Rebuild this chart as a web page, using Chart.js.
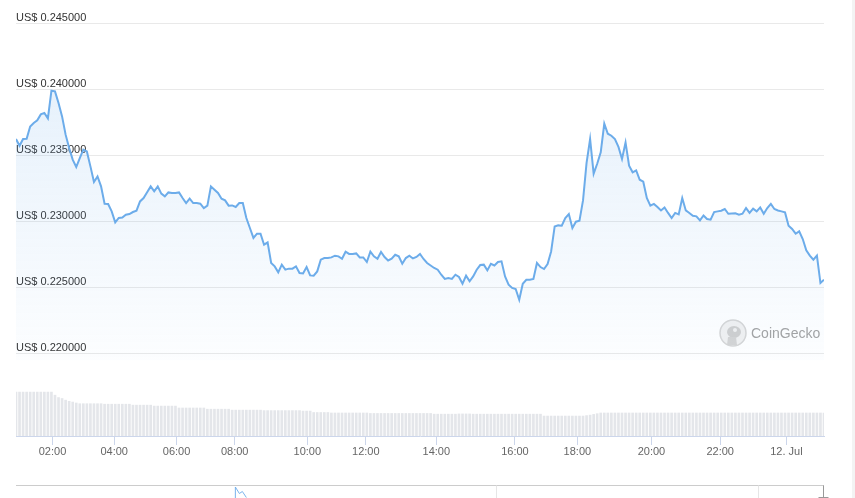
<!DOCTYPE html>
<html>
<head>
<meta charset="utf-8">
<script src="https://cdn.jsdelivr.net/npm/chart.js@4.4.1/dist/chart.umd.min.js"></script>
<style>
  html, body { margin: 0; padding: 0; background: #ffffff; }
  #wrap { position: relative; width: 855px; height: 498px; overflow: hidden; }
  #side { position: absolute; left: 852px; top: 0; width: 3px; height: 498px; background: #f3f3f3; }
  canvas { position: absolute; left: 0; top: 0; }
</style>
</head>
<body>
<div id="wrap">
  <canvas id="c" width="855" height="498"></canvas>
  <div id="side"></div>
</div>
<script>
// Price (USD) per sample, evenly spaced on an ordinal time axis
const prices = [
  0.23623,0.23572,0.23623,0.23625,0.23718,0.23744,0.23764,0.23809,0.23820,0.23779,
  0.23988,0.23983,0.23895,0.23794,0.23656,0.23555,0.23467,0.23411,0.23479,0.23542,
  0.23529,0.23416,0.23298,0.23340,0.23265,0.23134,0.23132,0.23076,0.22993,0.23026,
  0.23030,0.23051,0.23056,0.23071,0.23081,0.23151,0.23177,0.23221,0.23265,0.23227,
  0.23265,0.23210,0.23189,0.23219,0.23215,0.23215,0.23219,0.23177,0.23139,0.23172,
  0.23139,0.23139,0.23134,0.23101,0.23119,0.23265,0.23240,0.23215,0.23172,0.23159,
  0.23119,0.23121,0.23109,0.23139,0.23139,0.23026,0.22950,0.22875,0.22907,0.22907,
  0.22824,0.22841,0.22686,0.22660,0.22615,0.22673,0.22635,0.22643,0.22643,0.22660,
  0.22610,0.22607,0.22655,0.22592,0.22590,0.22622,0.22711,0.22723,0.22723,0.22728,
  0.22741,0.22736,0.22718,0.22771,0.22754,0.22754,0.22758,0.22728,0.22728,0.22693,
  0.22771,0.22736,0.22718,0.22769,0.22731,0.22705,0.22718,0.22748,0.22736,0.22680,
  0.22723,0.22741,0.22720,0.22731,0.22754,0.22716,0.22686,0.22667,0.22648,0.22635,
  0.22597,0.22565,0.22572,0.22565,0.22597,0.22580,0.22529,0.22590,0.22547,0.22584,
  0.22635,0.22670,0.22673,0.22630,0.22680,0.22667,0.22693,0.22698,0.22584,0.22522,
  0.22497,0.22489,0.22408,0.22529,0.22559,0.22559,0.22565,0.22686,0.22655,0.22640,
  0.22678,0.22773,0.22962,0.22970,0.22968,0.23026,0.23056,0.22950,0.22998,0.23005,
  0.23159,0.23442,0.23623,0.23361,0.23436,0.23522,0.23739,0.23663,0.23648,0.23623,
  0.23563,0.23472,0.23597,0.23421,0.23371,0.23386,0.23315,0.23300,0.23177,0.23119,
  0.23132,0.23109,0.23083,0.23106,0.23064,0.23026,0.23064,0.23053,0.23177,0.23083,
  0.23064,0.23043,0.23038,0.23008,0.23045,0.23018,0.23013,0.23071,0.23076,0.23081,
  0.23094,0.23058,0.23060,0.23061,0.23051,0.23058,0.23101,0.23064,0.23096,0.23076,
  0.23106,0.23058,0.23101,0.23132,0.23094,0.23083,0.23076,0.23068,0.22968,0.22943,
  0.22907,0.22925,0.22867,0.22781,0.22741,0.22711,0.22741,0.22534,0.22559
];

// 24h volume (million USD) per sample
const volumes = [
  185,185,185,185,185,185,185,185,185,185,185,172,162,158,151,146,143,139,136,136,
  136,136,136,136,136,134,134,134,134,134,134,134,134,130,130,130,130,130,130,126,
  126,126,126,126,126,126,118,118,118,118,118,118,118,118,113,113,113,113,113,113,
  113,109,109,109,109,109,109,109,109,109,107,107,107,107,107,107,107,107,107,107,
  107,105,105,105,99,99,99,99,99,97,97,97,97,97,97,97,97,97,97,97,
  95,95,95,95,95,95,95,95,95,95,95,95,95,95,95,95,95,95,92,92,
  92,92,92,92,92,93,93,93,93,92,92,92,92,92,92,92,92,92,92,92,
  92,92,92,92,92,92,92,92,92,84,84,84,84,84,84,84,84,84,84,84,
  84,86,88,91,94,97,97,97,97,97,97,97,97,97,97,97,97,97,97,97,
  97,97,97,97,97,97,97,97,97,97,97,97,97,97,97,97,97,97,97,97,
  97,97,97,97,97,97,97,97,97,97,97,97,97,97,97,97,97,97,97,97,
  97,97,97,97,97,97,97,97,97
];

// Time-axis labels and the sample position at which each falls
const xTickLabels = ['02:00','04:00','06:00','08:00','10:00','12:00','14:00','16:00','18:00','20:00','22:00','12. Jul'];
const xTickPos    = [10.3, 27.7, 45.3, 61.7, 82.2, 98.7, 118.6, 140.8, 158.4, 179.3, 198.7, 217.4];

// Price axis tick values
const yTicks = [0.220, 0.225, 0.230, 0.235, 0.240, 0.245];

const LINE = 'rgb(108,172,234)';
const FONT = "'Liberation Sans', Arial, sans-serif";
const fillBase = 0.2195;

const pricePts = prices.map((v, i) => ({ x: i, y: v }));
const volPts = volumes.map((v, i) => ({ x: i, y: v }));

const decor = {
  id: 'decor',
  beforeDatasetsDraw(chart) {
    const { ctx, chartArea: a } = chart;
    // CoinGecko watermark
    const cx = a.right - 91, cy = a.top + 310;
    ctx.save();
    ctx.beginPath();
    ctx.arc(cx, cy, 13, 0, Math.PI * 2);
    ctx.fillStyle = '#f1f1f1';
    ctx.fill();
    ctx.lineWidth = 1.5;
    ctx.strokeStyle = '#d6d6d6';
    ctx.stroke();
    ctx.beginPath();
    ctx.ellipse(cx + 1, cy - 1, 7, 6, 0, 0, Math.PI * 2);
    ctx.fillStyle = '#cfcfcf';
    ctx.fill();
    ctx.beginPath();
    ctx.arc(cx + 2, cy - 3, 2, 0, Math.PI * 2);
    ctx.fillStyle = '#f1f1f1';
    ctx.fill();
    ctx.beginPath();
    ctx.moveTo(cx - 5, cy + 4);
    ctx.lineTo(cx - 6, cy + 12);
    ctx.lineTo(cx + 4, cy + 12);
    ctx.lineTo(cx + 3, cy + 4);
    ctx.closePath();
    ctx.fillStyle = '#d4d4d4';
    ctx.fill();
    ctx.font = '14px ' + FONT;
    ctx.fillStyle = '#a3a3a3';
    ctx.textBaseline = 'alphabetic';
    ctx.fillText('CoinGecko', a.right - 73, a.top + 315);
    ctx.restore();
  },
  afterDraw(chart) {
    const { ctx, chartArea: a } = chart;
    const y0 = a.bottom + 49.5;
    const w = a.right - a.left;
    ctx.save();
    // navigator outline
    ctx.strokeStyle = '#cccccc';
    ctx.lineWidth = 1;
    ctx.beginPath();
    ctx.moveTo(a.left, y0);
    ctx.lineTo(a.right, y0);
    ctx.stroke();
    ctx.strokeStyle = '#e6e6e6';
    [0.594, 0.918].forEach(f => {
      const x = Math.round(a.left + f * w) + 0.5;
      ctx.beginPath();
      ctx.moveTo(x, y0);
      ctx.lineTo(x, 498);
      ctx.stroke();
    });
    // navigator series peak
    const px = a.left + 0.2715 * w;
    ctx.strokeStyle = 'rgba(108,172,234,0.9)';
    ctx.lineWidth = 1;
    ctx.beginPath();
    ctx.moveTo(px, 498);
    ctx.lineTo(px, y0 + 1.5);
    ctx.lineTo(px + 4, y0 + 8);
    ctx.lineTo(px + 7, y0 + 6);
    ctx.lineTo(px + 11, y0 + 12);
    ctx.stroke();
    // navigator handle
    const hx = Math.round(a.right) - 0.5;
    ctx.strokeStyle = '#999999';
    ctx.beginPath();
    ctx.moveTo(hx, y0);
    ctx.lineTo(hx, 497);
    ctx.moveTo(hx - 5, 497.5);
    ctx.lineTo(hx + 5, 497.5);
    ctx.stroke();
    ctx.restore();
  }
};

new Chart(document.getElementById('c'), {
  data: {
    datasets: [
      {
        type: 'line',
        label: 'Price',
        data: pricePts,
        yAxisID: 'y',
        borderColor: LINE,
        borderWidth: 2,
        pointRadius: 0,
        tension: 0,
        fill: { value: fillBase },
        backgroundColor: (c) => {
          const chart = c.chart;
          const a = chart.chartArea;
          if (!a) return 'rgba(108,172,234,0.1)';
          const yb = chart.scales.y.getPixelForValue(fillBase);
          const g = chart.ctx.createLinearGradient(0, a.top, 0, yb);
          g.addColorStop(0, 'rgba(108,172,234,0.20)');
          g.addColorStop(1, 'rgba(108,172,234,0.02)');
          return g;
        },
        order: 0
      },
      {
        type: 'bar',
        label: 'Volume',
        data: volPts,
        yAxisID: 'yv',
        backgroundColor: '#e4e6ea',
        borderWidth: 0,
        barThickness: 2,
        order: 1
      }
    ]
  },
  options: {
    responsive: false,
    animation: false,
    devicePixelRatio: 1,
    layout: { padding: { left: 16, right: 31, top: 23, bottom: 0 } },
    plugins: { legend: { display: false }, tooltip: { enabled: false } },
    scales: {
      x: {
        type: 'linear',
        min: 0,
        max: prices.length - 1,
        offset: false,
        afterBuildTicks: (s) => { s.ticks = xTickPos.map(v => ({ value: v })); },
        afterFit: (s) => { s.height = 62; },
        grid: { display: true, offset: false, drawOnChartArea: false, drawTicks: true, tickLength: 9, color: '#ccd6eb' },
        border: { display: true, color: '#ccd6eb', width: 1 },
        ticks: {
          autoSkip: false,
          maxRotation: 0,
          padding: 0,
          color: '#666666',
          font: { family: FONT, size: 11 },
          callback: (v, i) => xTickLabels[i]
        }
      },
      y: {
        type: 'linear',
        position: 'left',
        min: 0.213777,
        max: 0.245,
        bounds: 'data',
        afterBuildTicks: (s) => { s.ticks = yTicks.map(v => ({ value: v })); },
        afterFit: (s) => { s.width = 0; },
        grid: { color: '#e9e9e9', drawTicks: false, lineWidth: 1 },
        border: { display: false },
        ticks: {
          mirror: true,
          padding: 0,
          labelOffset: -5.5,
          color: '#333333',
          font: { family: FONT, size: 11 },
          callback: (v) => 'US$ ' + Number(v).toFixed(6)
        }
      },
      yv: {
        type: 'linear',
        position: 'left',
        display: false,
        min: 0,
        max: 1740
      }
    }
  },
  plugins: [decor]
});
</script>
</body>
</html>
